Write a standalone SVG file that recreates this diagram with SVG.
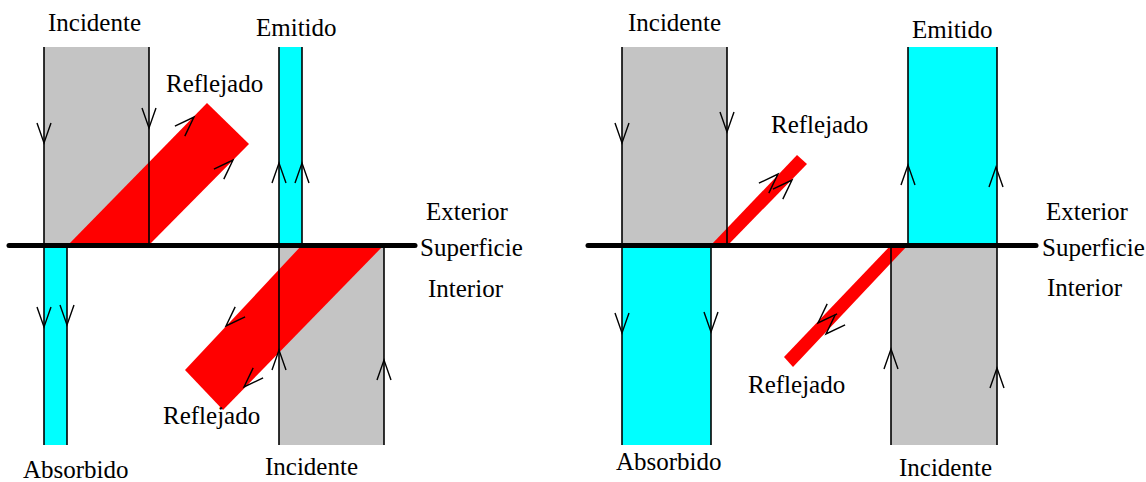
<svg xmlns="http://www.w3.org/2000/svg" xmlns:xlink="http://www.w3.org/1999/xlink" width="1146" height="482" viewBox="0 0 1146 482">
<style>
.grey{fill:#c4c4c4}
.cyan{fill:#00ffff}
.red{fill:#ff0000}
.edge{stroke:#000;stroke-width:1.6;fill:none}
.surf{stroke:#000;stroke-width:5;stroke-linecap:round}
.lbl text{font-family:'Liberation Serif','DejaVu Serif',serif;font-size:25px;fill:#000}
.arr{stroke:#000;stroke-width:1.4;fill:none}
</style>
<defs>
<path id="v" d="M-7,-20 L0,0 L7,-20"/>
</defs>
<rect width="1146" height="482" fill="#fff"/>

<!-- LEFT PANEL -->
<g id="left-incident-ext"><rect class="grey" x="44" y="47" width="105" height="198"/></g>
<g id="left-emitted"><rect class="cyan" x="279" y="47" width="23" height="198"/></g>
<g id="left-absorbed"><rect class="cyan" x="44" y="245" width="23" height="200"/></g>
<g id="left-incident-int"><rect class="grey" x="279" y="245" width="105" height="200"/></g>
<g id="left-reflected-ext"><polygon class="red" points="68,245 149,245 249,144 207,103"/></g>
<g id="left-reflected-int"><polygon class="red" points="302,245 384,245 223,410 185,370"/></g>

<!-- RIGHT PANEL -->
<g id="right-incident-ext"><rect class="grey" x="622" y="47" width="105" height="198"/></g>
<g id="right-emitted"><rect class="cyan" x="908" y="47" width="89" height="198"/></g>
<g id="right-absorbed"><rect class="cyan" x="622" y="245" width="89" height="200"/></g>
<g id="right-incident-int"><rect class="grey" x="891" y="245" width="106" height="200"/></g>
<g id="right-reflected-ext"><polygon class="red" points="711,245 728,245 807,164 797,155"/></g>
<g id="right-reflected-int"><polygon class="red" points="891,245 908,245 793,367 784,357"/></g>

<g id="connectors">
<g class="edge">
<line x1="44" y1="47" x2="44" y2="445"/>
<line x1="149" y1="47" x2="149" y2="245"/>
<line x1="67" y1="245" x2="67" y2="445"/>
<line x1="279" y1="47" x2="279" y2="445"/>
<line x1="302" y1="47" x2="302" y2="245"/>
<line x1="384" y1="245" x2="384" y2="445"/>
<line x1="622" y1="47" x2="622" y2="445"/>
<line x1="727" y1="47" x2="727" y2="245"/>
<line x1="711" y1="245" x2="711" y2="445"/>
<line x1="908" y1="47" x2="908" y2="245"/>
<line x1="997" y1="47" x2="997" y2="445"/>
<line x1="891" y1="245" x2="891" y2="445"/>
</g>
<line class="surf" x1="9" y1="245.5" x2="415" y2="245.5"/>
<line class="surf" x1="588" y1="245.5" x2="1036" y2="245.5"/>
<g class="arr">
<use xlink:href="#v" transform="translate(44,143)"/>
<use xlink:href="#v" transform="translate(149,128)"/>
<use xlink:href="#v" transform="translate(279,163) rotate(180)"/>
<use xlink:href="#v" transform="translate(302,163) rotate(180)"/>
<use xlink:href="#v" transform="translate(44,327)"/>
<use xlink:href="#v" transform="translate(67,325)"/>
<use xlink:href="#v" transform="translate(279,350) rotate(180)"/>
<use xlink:href="#v" transform="translate(384,360) rotate(180)"/>
<use xlink:href="#v" transform="translate(194,117) rotate(-135)"/>
<use xlink:href="#v" transform="translate(233,160) rotate(-135)"/>
<use xlink:href="#v" transform="translate(226,326) rotate(45)"/>
<use xlink:href="#v" transform="translate(244,387) rotate(45)"/>
<use xlink:href="#v" transform="translate(622,143)"/>
<use xlink:href="#v" transform="translate(727,132)"/>
<use xlink:href="#v" transform="translate(908,165) rotate(180)"/>
<use xlink:href="#v" transform="translate(996,167) rotate(180)"/>
<use xlink:href="#v" transform="translate(622,333)"/>
<use xlink:href="#v" transform="translate(711,332)"/>
<use xlink:href="#v" transform="translate(891,349) rotate(180)"/>
<use xlink:href="#v" transform="translate(997,368) rotate(180)"/>
<use xlink:href="#v" transform="translate(778,174) rotate(-135)"/>
<use xlink:href="#v" transform="translate(792,180) rotate(-135)"/>
<use xlink:href="#v" transform="translate(818,323) rotate(45)"/>
<use xlink:href="#v" transform="translate(826,334) rotate(45)"/>
</g>
</g>

<g id="labels" class="lbl" font-family="'Liberation Serif', 'DejaVu Serif', serif" font-size="25">
<text x="48" y="31">Incidente</text>
<text x="256" y="36">Emitido</text>
<text x="166" y="92">Reflejado</text>
<text x="426" y="220">Exterior</text>
<text x="420" y="256">Superficie</text>
<text x="428" y="297">Interior</text>
<text x="163" y="424">Reflejado</text>
<text x="23" y="478">Absorbido</text>
<text x="265" y="475">Incidente</text>
<text x="628" y="31">Incidente</text>
<text x="912" y="38">Emitido</text>
<text x="771" y="133">Reflejado</text>
<text x="1046" y="220">Exterior</text>
<text x="1042" y="256">Superficie</text>
<text x="1047" y="296">Interior</text>
<text x="748" y="393">Reflejado</text>
<text x="616" y="470">Absorbido</text>
<text x="899" y="476">Incidente</text>
</g>
</svg>
